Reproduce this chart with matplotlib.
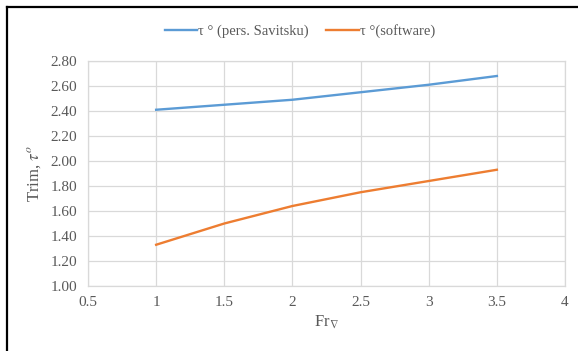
import matplotlib
matplotlib.use("Agg")
import matplotlib.pyplot as plt
from matplotlib.lines import Line2D

plt.rcParams["font.family"] = ["Liberation Serif", "DejaVu Serif"]
plt.rcParams["mathtext.fontset"] = "stix"

# Froude number (volumetric) vs trim angle
fr = [1.0, 1.5, 2.0, 2.5, 3.0, 3.5]
trim_savitsky = [2.41, 2.45, 2.49, 2.55, 2.61, 2.68]
trim_software = [1.33, 1.50, 1.64, 1.75, 1.84, 1.93]

BLUE = "#5B9BD5"; ORANGE = "#ED7D31"; GRID = "#D9D9D9"; TXT = "#595959"

fig = plt.figure(figsize=(5.78, 3.51), dpi=100)
ax = fig.add_axes([88 / 578, 1 - 286 / 351, (565 - 88) / 578, (286 - 61) / 351])

ax.plot(fr, trim_savitsky, color=BLUE, lw=1.7, label="τ ° (pers. Savitsku)")
ax.plot(fr, trim_software, color=ORANGE, lw=1.7, label="τ °(software)")

ax.set_xlim(0.5, 4)
ax.set_ylim(1.0, 2.8)
ax.set_xticks([0.5, 1, 1.5, 2, 2.5, 3, 3.5, 4])
ax.set_xticklabels(["0.5", "1", "1.5", "2", "2.5", "3", "3.5", "4"])
ax.set_yticks([1.0 + 0.2 * i for i in range(10)])
ax.set_yticklabels([f"{1.0 + 0.2 * i:.2f}" for i in range(10)])
ax.grid(True, color=GRID, lw=0.9)
ax.set_axisbelow(True)
for s in ax.spines.values():
    s.set_color(GRID)
    s.set_linewidth(0.9)
ax.tick_params(length=0, labelsize=11, labelcolor=TXT)
ax.tick_params(axis="y", pad=8)
ax.tick_params(axis="x", pad=7)

ax.set_ylabel("Trim, $\\tau^{o}$", fontsize=12, color=TXT, labelpad=5)
ax.set_xlabel("Fr$_{\\nabla}$", fontsize=12, color=TXT, labelpad=4)

ax.legend(loc="center", bbox_to_anchor=(300 / 578, 1 - 31 / 351), bbox_transform=fig.transFigure,
          ncol=2, frameon=False, fontsize=10.5, handlelength=2.2, handletextpad=0.1,
          columnspacing=1.2, labelcolor=TXT)

# frame around the chart (top and left edges)
fig.add_artist(Line2D([7 / 578, 1], [1 - 7 / 351, 1 - 7 / 351], color="black", lw=1.6,
                      transform=fig.transFigure))
fig.add_artist(Line2D([7 / 578, 7 / 578], [0, 1 - 7 / 351], color="black", lw=1.6,
                      transform=fig.transFigure))

fig.savefig("out.png", dpi=100, facecolor="white")
